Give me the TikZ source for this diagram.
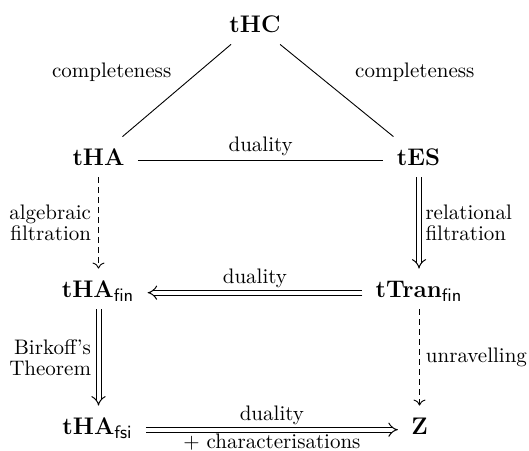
\documentclass[tikz,border=0pt]{standalone}
\usetikzlibrary{arrows.meta}
\begin{document}
\begin{tikzpicture}[x=0.5pt,y=-0.5pt,
  obj/.style={font=\fontsize{13}{15}\selectfont, inner xsep=6.5pt, inner ysep=5pt,
              text height=9pt, text depth=1pt, anchor=base},
  lab/.style={font=\fontsize{10.5}{10.5}\selectfont, inner sep=2pt},
  dbl/.style={double, double distance=2pt, line width=0.5pt, -{Implies}},
  dsh/.style={dash pattern=on 3pt off 2pt, line width=0.45pt,
              -{Computer Modern Rightarrow[length=3pt,width=6pt]}},
  pln/.style={line width=0.45pt},
]
\useasboundingbox (0,0) rectangle (529,450);
\node[obj] (hc) at (255,32) {$\mathbf{tHC}$};
\node[obj] (ha) at (98.5,165) {$\mathbf{tHA}$};
\node[obj] (es) at (418.5,165) {$\mathbf{tES}$};
\node[obj] (haf) at (98,297) {$\mathbf{tHA}_{\mathsf{fin}}$};
\node[obj] (tr) at (419,297) {$\mathbf{tTran}_{\mathsf{fin}}$};
\node[obj] (fsi) at (97.5,434) {$\mathbf{tHA}_{\mathsf{fsi}}$};
\node[obj] (z) at (419.5,434) {$\mathbf{Z}$};

\draw[pln] (hc) -- node[lab, above left, xshift=-0.5pt, yshift=2.2pt] {completeness} (ha);
\draw[pln] (hc) -- node[lab, above right, xshift=7pt, yshift=2.2pt] {completeness} (es);
\draw[pln] (ha.mid east) -- node[lab, above] {duality} (es.mid west);

\draw[dsh] (ha) -- node[lab, left, align=right, xshift=-1.5pt] {algebraic\\filtration} (ha |- haf.north);
\draw[dbl] (es.south -| tr) -- node[lab, right, align=left, xshift=1pt] {relational\\filtration} (tr.north);

\draw[dbl] (tr.mid west) -- node[lab, above] {duality} (haf.mid east);

\draw[dbl] (haf.south -| ha) -- node[lab, left, align=right, xshift=-1.5pt] {Birkoff's\\Theorem} (ha |- fsi.north);
\draw[dsh] (tr.south -| z) -- node[lab, right, xshift=1pt] {unravelling} (z.north);

\draw[dbl] (fsi.mid east) -- node[lab, above] {duality} node[lab, below] {+ characterisations} (z.mid west);
\end{tikzpicture}
\end{document}
